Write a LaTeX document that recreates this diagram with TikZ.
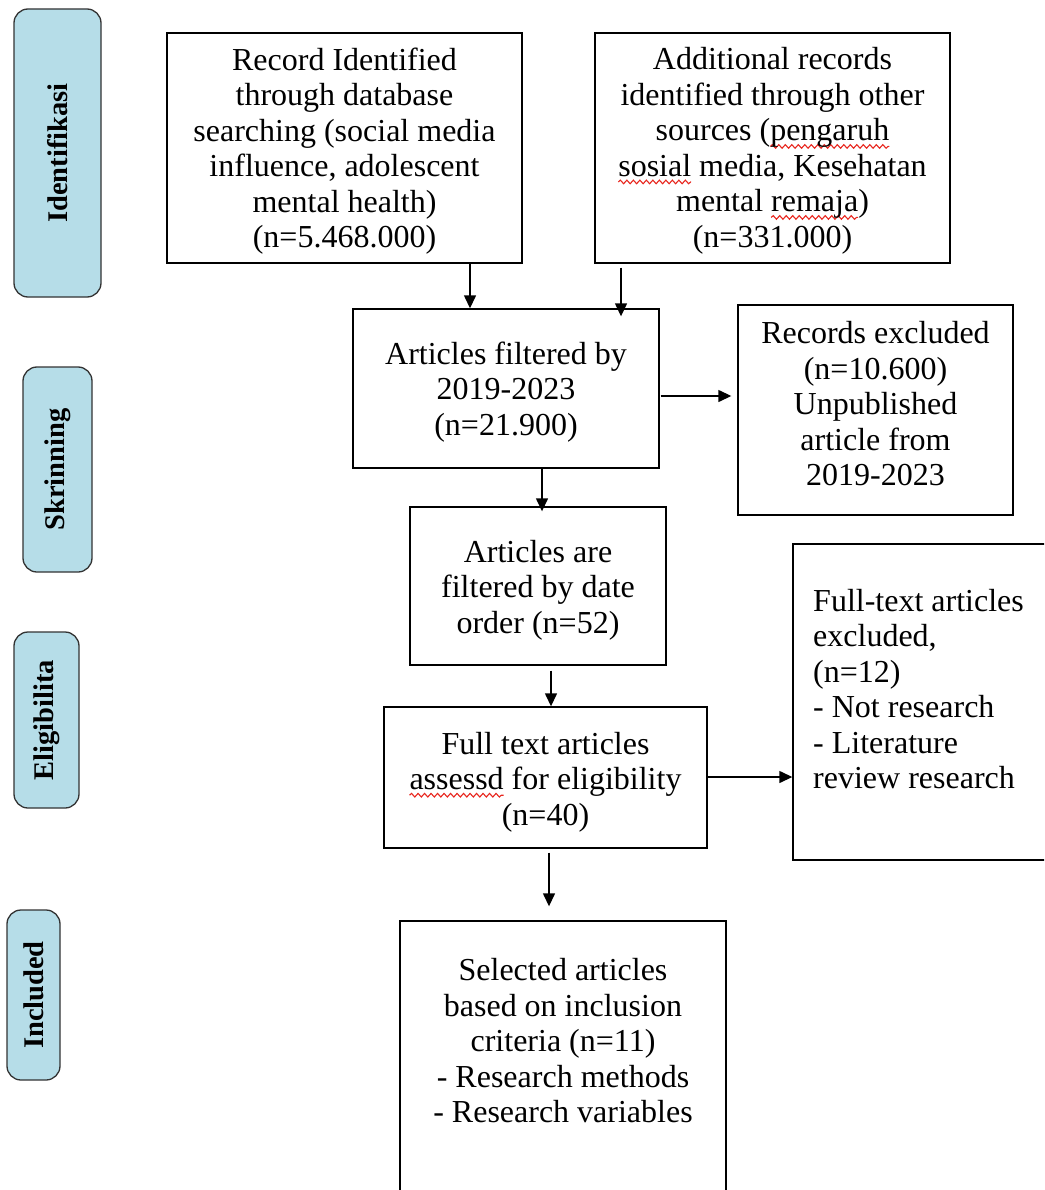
\documentclass[tikz,border=0pt]{standalone}
\usepackage{fontspec}
\setmainfont{Liberation Serif}
\usetikzlibrary{arrows.meta,calc,decorations.pathmorphing}
\definecolor{labfill}{HTML}{B6DDE8}
\definecolor{labedge}{HTML}{333333}
\definecolor{wavered}{HTML}{E8271F}
\newcommand\redwave[1]{\setbox0\hbox{#1}\rlap{\tikz[overlay,baseline=0pt]\draw[wavered, line width=1.1pt, decorate, decoration={snake, amplitude=1.8pt, segment length=6.5pt}] (0pt,-5.5pt) -- (\wd0,-5.5pt);}\box0\relax}
\begin{document}
\begin{tikzpicture}[x=1pt,y=-1pt,
  box/.style={draw, line width=1.4pt, rectangle, inner sep=0pt},
  lab/.style={draw=labedge, line width=1.3pt, fill=labfill, rounded corners=14pt, inner sep=0pt},
  labtxt/.style={rotate=90, inner sep=0pt, font=\fontsize{28.5}{30}\selectfont\bfseries},
  txt/.style={font=\fontsize{32}{35.5}\selectfont, align=center, inner sep=0pt},
  arr/.style={line width=1.4pt, -{Triangle[length=13pt,width=12pt]}}
]
\useasboundingbox (0,0) rectangle (1044,1190);
\clip (0,0) rectangle (1044,1190);
\fill[white] (0,0) rectangle (1044,1190);

% stage labels
\node[lab, minimum width=87, minimum height=288] (l1) at (57.5,153) {};
\node[labtxt] (l1t) at (l1) {Identifikasi};
\node[lab, minimum width=69, minimum height=205] (l2) at (57.5,469.5) {};
\node[labtxt] (l2t) at (l2) {Skrinning};
\node[lab, minimum width=65, minimum height=176] (l3) at (46.5,720) {};
\node[labtxt] (l3t) at (l3) {Eligibilita};
\node[lab, minimum width=53, minimum height=170] (l4) at (33.5,995) {};
\node[labtxt] (l4t) at (l4) {Included};

% boxes
\node[box, minimum width=355, minimum height=230] (b1) at (344.5,148) {};
\node[txt] (b1t) at (344.5,151) {Record Identified\\through database\\searching (social media\\influence, adolescent\\mental health)\\(n=5.468.000)};

\node[box, minimum width=355, minimum height=230] (b2) at (772.5,148) {};
\node[txt] (b2t) at (772.5,151) {Additional records\\identified through other\\sources (\redwave{pengaruh}\\\redwave{sosial} media, Kesehatan\\mental \redwave{remaja})\\(n=331.000)};

\node[box, minimum width=306, minimum height=159] (b3) at (506,388.5) {};
\node[txt] (b3t) at (506,392) {Articles filtered by\\2019-2023\\(n=21.900)};

\node[box, minimum width=275, minimum height=210] (b4) at (875.5,410) {};
\node[txt] (b4t) at (875.5,404) {Records excluded\\(n=10.600)\\Unpublished\\article from\\2019-2023};

\node[box, minimum width=256, minimum height=158] (b5) at (538,586) {};
\node[txt] (b5t) at (538,590) {Articles are\\filtered by date\\order (n=52)};

\node[box, minimum width=323, minimum height=141] (b6) at (545.5,777.5) {};
\node[txt] (b6t) at (545.5,782) {Full text articles\\\redwave{assessd} for eligibility\\(n=40)};

\node[box, minimum width=267, minimum height=316] (b7) at (926.5,702) {};
\node[txt, align=left, anchor=west] (b7t) at (813,689) {Full-text articles\\excluded,\\(n=12)\\- Not research\\- Literature\\review research};

\node[box, minimum width=326, minimum height=299] (b8) at (563,1070.5) {};
\node[txt] (b8t) at (563,1041) {Selected articles\\based on inclusion\\criteria (n=11)\\- Research methods\\- Research variables};

% connectors
\coordinate (xa) at (470,0);
\coordinate (xb) at (621,0);
\coordinate (xc) at (542,0);
\coordinate (xd) at (551,0);
\coordinate (xf) at (549,0);
\coordinate (yc) at (0,396);
\coordinate (ye) at (0,777);
\draw[arr] (b1.south -| xa) -- (b3.north -| xa);
\draw[arr, shorten <=4pt, shorten >=-8pt] (b2.south -| xb) -- (b3.north -| xb);
\draw[arr, shorten <=1pt, shorten >=6pt] (b3.east |- yc) -- (b4.west |- yc);
\draw[arr, shorten >=-5pt] (b3.south -| xc) -- (b5.north -| xc);
\draw[arr, shorten <=5pt] (b5.south -| xd) -- (b6.north -| xd);
\draw[arr] (b6.east |- ye) -- (b7.west |- ye);
\draw[arr, shorten <=4pt, shorten >=14pt] (b6.south -| xf) -- (b8.north -| xf);
\end{tikzpicture}
\end{document}
